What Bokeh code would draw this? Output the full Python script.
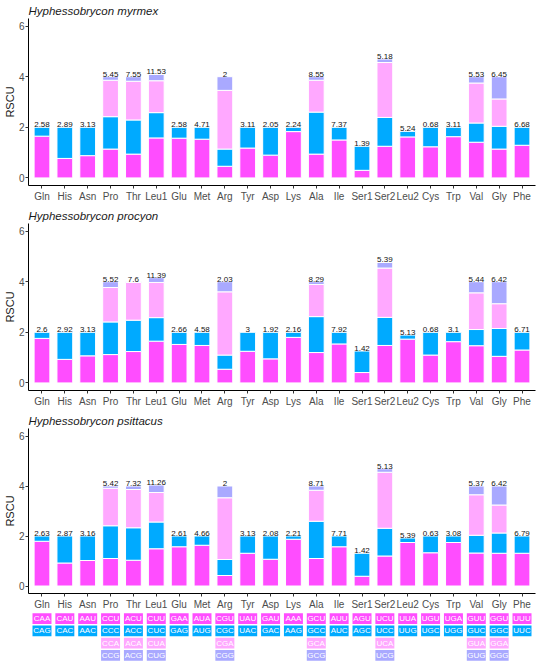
from bokeh.plotting import figure
from bokeh.models import FactorRange, Range1d, FixedTicker, ColumnDataSource
from bokeh.layouts import column
from bokeh.embed import file_html
from bokeh.resources import INLINE
from bokeh.core.properties import value

amino = ["Gln", "His", "Asn", "Pro", "Thr", "Leu1", "Glu", "Met", "Arg", "Tyr", "Asp",
         "Lys", "Ala", "Ile", "Ser1", "Ser2", "Leu2", "Cys", "Trp", "Val", "Gly", "Phe"]

codons = [["CAA", "CAG"], ["CAU", "CAC"], ["AAU", "AAC"], ["CCU", "CCC", "CCA", "CCG"],
          ["ACU", "ACC", "ACA", "ACG"], ["CUU", "CUC", "CUA", "CUG"], ["GAA", "GAG"],
          ["AUA", "AUG"], ["CGU", "CGC", "CGA", "CGG"], ["UAU", "UAC"], ["GAU", "GAC"],
          ["AAA", "AAG"], ["GCU", "GCC", "GCA", "GCG"], ["AUU", "AUC"], ["AGU", "AGC"],
          ["UCU", "UCC", "UCA", "UCG"], ["UUA", "UUG"], ["UGU", "UGC"], ["UGA", "UGG"],
          ["GUU", "GUC", "GUA", "GUG"], ["GGU", "GGC", "GGA", "GGG"], ["UUU", "UUC"]]

species = ["Hyphessobrycon myrmex", "Hyphessobrycon procyon", "Hyphessobrycon psittacus"]

myrmex_rscu = [[1.65, 0.35], [0.77, 1.23], [0.88, 1.12], [1.14, 1.28, 1.44, 0.14],
               [0.94, 1.35, 1.53, 0.18], [1.58, 1.00, 1.26, 0.25], [1.57, 0.43],
               [1.53, 0.47], [0.46, 0.68, 2.32, 0.54], [1.18, 0.82], [0.90, 1.10],
               [1.83, 0.17], [0.94, 1.66, 1.26, 0.14], [1.50, 0.50], [0.30, 0.95],
               [1.25, 1.14, 2.17, 0.14], [1.62, 0.22], [1.23, 0.77], [1.63, 0.37],
               [1.41, 0.76, 1.58, 0.25], [1.14, 0.90, 1.08, 0.88], [1.29, 0.71]]
myrmex_labels = [2.58, 2.89, 3.13, 5.45, 7.55, 11.53, 2.58, 4.71, 2, 3.11, 2.05,
                 2.24, 8.55, 7.37, 1.39, 5.18, 5.24, 0.68, 3.11, 5.53, 6.45, 6.68]

procyon_rscu = [[1.76, 0.24], [0.93, 1.07], [1.07, 0.93], [1.12, 1.29, 1.36, 0.23],
                [1.24, 1.24, 1.49, 0.03], [1.65, 0.93, 1.39, 0.19], [1.52, 0.48],
                [1.48, 0.52], [0.54, 0.56, 2.50, 0.40], [1.25, 0.75], [0.95, 1.05],
                [1.80, 0.20], [1.20, 1.42, 1.27, 0.11], [1.54, 0.46], [0.41, 0.85],
                [1.48, 1.11, 1.95, 0.22], [1.73, 0.16], [1.10, 0.90], [1.63, 0.37],
                [1.47, 0.64, 1.45, 0.44], [1.05, 1.10, 0.98, 0.87], [1.30, 0.70]]
procyon_labels = [2.6, 2.92, 3.13, 5.52, 7.6, 11.39, 2.66, 4.58, 2.03, 3, 1.92,
                  2.16, 8.29, 7.92, 1.42, 5.39, 5.13, 0.68, 3.1, 5.44, 6.42, 6.71]

psittacus_rscu = [[1.79, 0.21], [0.92, 1.08], [1.02, 0.98], [1.10, 1.31, 1.50, 0.09],
                  [1.03, 1.30, 1.53, 0.14], [1.49, 1.07, 1.18, 0.30], [1.57, 0.43],
                  [1.63, 0.37], [0.42, 0.64, 2.47, 0.47], [1.31, 0.69], [1.07, 0.93],
                  [1.87, 0.13], [1.10, 1.49, 1.24, 0.17], [1.57, 0.43], [0.39, 0.92],
                  [1.20, 1.11, 2.24, 0.14], [1.74, 0.18], [1.33, 0.67], [1.74, 0.26],
                  [1.32, 0.71, 1.62, 0.35], [1.31, 0.81, 1.12, 0.76], [1.31, 0.69]]
psittacus_labels = [2.63, 2.87, 3.16, 5.42, 7.32, 11.26, 2.61, 4.66, 2, 3.13, 2.08,
                    2.21, 8.71, 7.71, 1.42, 5.13, 5.39, 0.63, 3.08, 5.37, 6.42, 6.79]

colors = ["#FF4DFF", "#00AAFF", "#FFA8FF", "#A9A9FF"]
FONT = "Liberation Sans"
FONT_VALUE = value(FONT)
W = 542
LEFT = 20
RIGHT = 7


def make_x_range():
    return FactorRange(factors=amino, range_padding=0.09, range_padding_units="absolute")


def panel(name, rscu, labels, height, bottom_border):
    xs, bots, tops, cols = [], [], [], []
    for aa, vals in zip(amino, rscu):
        b = 0.0
        for k, v in enumerate(vals):
            xs.append(aa)
            bots.append(b)
            tops.append(b + v)
            cols.append(colors[k])
            b += v
    src = ColumnDataSource(dict(x=xs, bottom=bots, top=tops, color=cols))
    totals = [sum(v) for v in rscu]
    lab_src = ColumnDataSource(dict(x=amino, y=totals, t=[f"{v:g}" for v in labels]))

    p = figure(x_range=make_x_range(), y_range=Range1d(-0.3, 6.3), width=W, height=height,
               toolbar_location=None, output_backend="svg", title=name,
               min_border_left=LEFT, min_border_right=RIGHT, min_border_top=18,
               min_border_bottom=bottom_border)
    p.vbar(x="x", bottom="bottom", top="top", width=0.69, fill_color="color",
           line_color="white", line_width=1, source=src)
    p.text(x="x", y="y", text="t", source=lab_src, text_font_size="8px",
           text_align="center", text_baseline="bottom", text_color="#111111",
           text_font=FONT_VALUE)

    p.title.text_font = FONT
    p.title.text_font_size = "11.5px"
    p.title.text_font_style = "italic"
    p.title.text_color = "#1a1a1a"
    p.title.align = "left"
    p.title.standoff = 3

    p.grid.visible = False
    p.outline_line_color = None
    p.background_fill_color = "white"
    p.border_fill_color = "white"

    ya = p.yaxis[0]
    ya.ticker = FixedTicker(ticks=[0, 2, 4, 6])
    ya.axis_label = "RSCU"
    ya.axis_label_text_font = FONT
    ya.axis_label_text_font_size = "11px"
    ya.axis_label_text_font_style = "normal"
    ya.axis_label_text_color = "#1a1a1a"
    ya.axis_label_standoff = 0
    ya.major_label_standoff = 1
    ya.major_label_text_font = FONT
    ya.major_label_text_font_size = "10px"
    ya.major_label_text_color = "#4d4d4d"
    ya.major_tick_out = 3
    ya.major_tick_in = 0
    ya.minor_tick_out = 0
    ya.minor_tick_in = 0
    ya.axis_line_color = "black"
    ya.major_tick_line_color = "#333333"

    xa = p.xaxis[0]
    xa.major_label_text_font = FONT
    xa.major_label_text_font_size = "10px"
    xa.major_label_text_color = "#4d4d4d"
    xa.major_label_standoff = 2
    xa.major_tick_out = 3
    xa.major_tick_in = 0
    xa.axis_line_color = "black"
    xa.major_tick_line_color = "#333333"
    return p


p1 = panel(species[0], myrmex_rscu, myrmex_labels, 205, 20)
p2 = panel(species[1], procyon_rscu, procyon_labels, 205, 20)
p3 = panel(species[2], psittacus_rscu, psittacus_labels, 202, 17)

# codon table
cx, cy, ccol, ctxt = [], [], [], []
for aa, cods in zip(amino, codons):
    for k, c in enumerate(cods):
        cx.append(aa)
        cy.append(3.5 - k)
        ccol.append(colors[k])
        ctxt.append(c)
csrc = ColumnDataSource(dict(x=cx, y=cy, color=ccol, t=ctxt))

q = figure(x_range=p3.x_range, y_range=Range1d(0, 4), width=W, height=49,
           toolbar_location=None, output_backend="svg",
           min_border_left=LEFT, min_border_right=RIGHT, min_border_top=0, min_border_bottom=0)
q.rect(x="x", y="y", width=0.83, height=0.88, fill_color="color", line_color=None, source=csrc)
q.text(x="x", y="y", text="t", source=csrc, text_font_size="8px", text_align="center",
       text_baseline="middle", text_color="white", text_font=FONT_VALUE)
q.axis.visible = False
q.grid.visible = False
q.outline_line_color = None

layout = column(p1, p2, p3, q, spacing=0)
open("out.html", "w").write(file_html(layout, INLINE))
